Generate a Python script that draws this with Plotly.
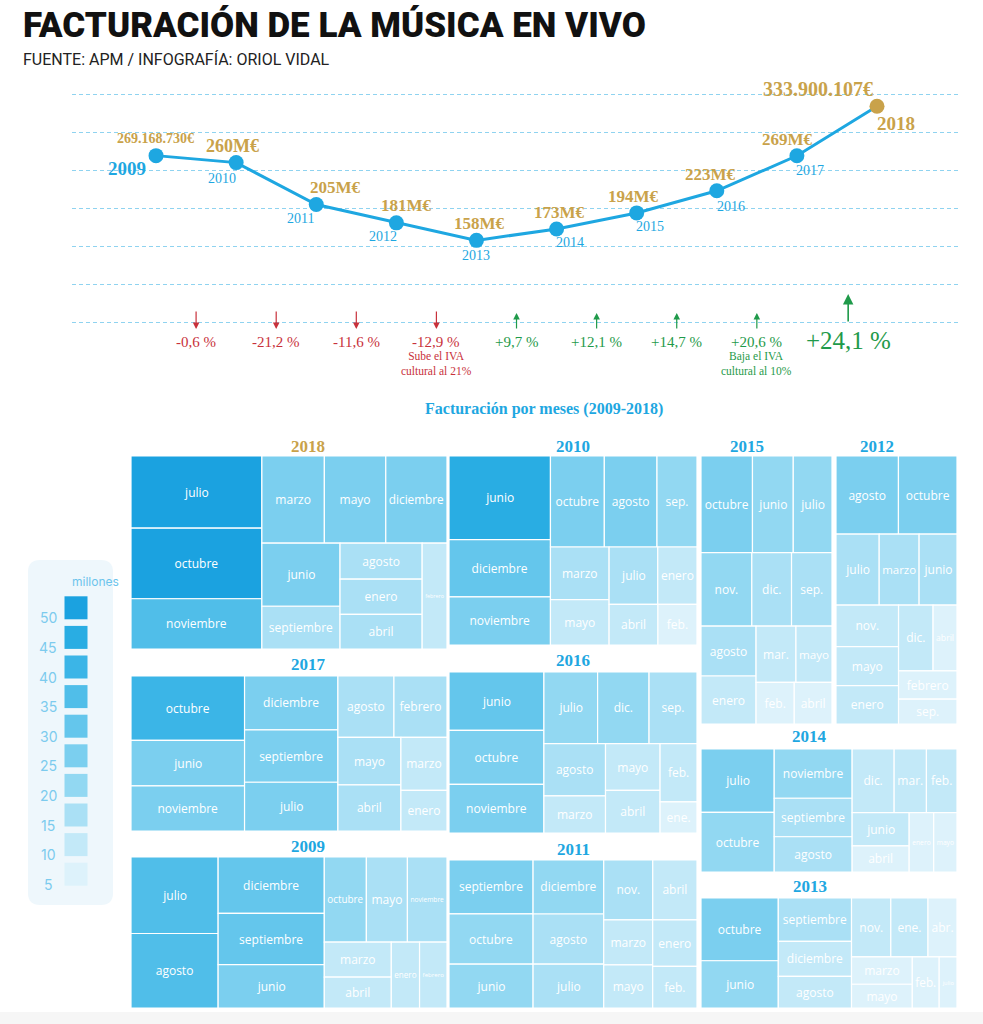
import math
import plotly.graph_objects as go

# ---------------- data ----------------
YEARS = [2009, 2010, 2011, 2012, 2013, 2014, 2015, 2016, 2017, 2018]
TOTALS_M = [269.168730, 260, 205, 181, 158, 173, 194, 223, 269, 333.900107]
TOTAL_LABELS = ["269.168.730€", "260M€", "205M€", "181M€", "158M€", "173M€",
                "194M€", "223M€", "269M€", "333.900.107€"]
CHANGE_LABELS = ["-0,6 %", "-21,2 %", "-11,6 %", "-12,9 %", "+9,7 %",
                 "+12,1 %", "+14,7 %", "+20,6 %", "+24,1 %"]
CHANGE_SIGN = [-1, -1, -1, -1, 1, 1, 1, 1, 1]
CHANGE_NOTES = {3: "Sube el IVA<br>cultural al 21%", 7: "Baja el IVA<br>cultural al 10%"}

LEGEND_VALUES = [50, 45, 40, 35, 30, 25, 20, 15, 10, 5]

# monthly revenue (millions of euros), listed in the infographic's layout order
M2018 = ["julio", "octubre", "noviembre", "marzo", "mayo", "diciembre", "junio",
         "septiembre", "agosto", "enero", "abril", "febrero"]
V2018 = [51.7, 50.6, 36.0, 29.8, 29.3, 29.2, 27.0, 18.3, 16.2, 15.8, 15.6, 14.4]

M2010 = ["junio", "diciembre", "noviembre", "octubre", "agosto", "sep.", "marzo",
         "mayo", "julio", "enero", "abril", "feb."]
V2010 = [47.1, 32.2, 27.1, 27.2, 26.6, 20.2, 17.1, 14.8, 15.5, 12.5, 11.0, 8.8]

M2015 = ["octubre", "junio", "julio", "nov.", "dic.", "sep.", "agosto", "enero",
         "mar.", "mayo", "feb.", "abril"]
V2015 = [27.5, 21.8, 20.7, 20.6, 16.1, 16.4, 15.2, 14.6, 12.4, 11.2, 8.8, 8.7]

M2012 = ["agosto", "octubre", "julio", "marzo", "junio", "nov.", "mayo", "enero",
         "dic.", "abril", "febrero", "sep."]
V2012 = [27.2, 25.5, 17.1, 15.8, 15.0, 14.5, 13.6, 13.4, 12.7, 8.8, 9.2, 8.1]

M2017 = ["octubre", "junio", "noviembre", "diciembre", "septiembre", "julio",
         "agosto", "febrero", "mayo", "abril", "marzo", "enero"]
V2017 = [40.1, 28.4, 28.2, 27.6, 26.9, 25.0, 18.9, 17.9, 16.4, 16.0, 13.4, 10.3]

M2016 = ["junio", "octubre", "noviembre", "julio", "dic.", "sep.", "agosto",
         "marzo", "mayo", "abril", "feb.", "ene."]
V2016 = [30.9, 28.6, 25.8, 21.5, 20.6, 19.2, 17.9, 12.8, 14.2, 13.0, 12.0, 6.4]

M2009 = ["julio", "agosto", "diciembre", "septiembre", "junio", "octubre", "mayo",
         "noviembre", "marzo", "abril", "enero", "febrero"]
V2009 = [37.6, 36.6, 33.8, 30.6, 26.0, 20.2, 19.7, 19.0, 13.2, 11.7, 10.5, 10.2]

M2011 = ["septiembre", "octubre", "junio", "diciembre", "agosto", "julio", "nov.",
         "abril", "marzo", "mayo", "enero", "feb."]
V2011 = [25.3, 23.6, 20.6, 21.3, 19.8, 17.3, 16.4, 14.8, 12.3, 11.8, 11.5, 10.3]

M2014 = ["julio", "octubre", "noviembre", "septiembre", "agosto", "dic.", "mar.",
         "feb.", "junio", "abril", "enero", "mayo"]
V2014 = [25.5, 24.0, 21.1, 16.5, 15.1, 14.7, 11.3, 10.7, 10.4, 8.2, 8.0, 7.6]

M2013 = ["octubre", "junio", "septiembre", "diciembre", "agosto", "nov.", "ene.",
         "abr.", "marzo", "mayo", "feb.", "julio"]
V2013 = [27.2, 20.5, 17.8, 14.4, 13.0, 13.0, 12.3, 9.6, 9.3, 8.1, 7.7, 5.1]

# ---------------- styling ----------------
W, H = 983, 1024
BLUE = "#1ea7e1"
GOLD = "#c9a24a"
RED = "#c8313b"
GREEN = "#1f9a4a"
GRID = "#8fd3f0"
SERIF = "Liberation Serif"
SANS = "Open Sans"
BUCKET_COLORS = {50: "#1ba2e0", 45: "#29ade3", 40: "#3bb5e7", 35: "#50bee9",
                 30: "#64c6ec", 25: "#7bcfef", 20: "#92d8f2", 15: "#aae0f5",
                 10: "#c3e9f8", 5: "#ddf2fb"}


def px(x):
    return x / W


def py(y):
    return 1 - y / H


def bucket_color(v):
    b = int(math.floor(v / 5.0) * 5)
    b = max(5, min(50, b))
    return BUCKET_COLORS[b]


fig = go.Figure()

# ---------------- line chart ----------------
fig.add_trace(go.Scatter(
    x=YEARS, y=TOTALS_M, mode="lines+markers",
    line=dict(color=BLUE, width=3),
    marker=dict(size=15, color=[GOLD if yr == YEARS[-1] else BLUE for yr in YEARS]),
    hoverinfo="skip", showlegend=False, xaxis="x", yaxis="y"))

annotations = []
shapes = []

# label offsets (pixels) relative to each point
VAL_OFF = [(-1, 17, 14), (-4, 17, 18), (19, 17, 17), (10, 17, 17), (3, 17, 17),
           (3, 16, 17), (-3, 16, 17), (-6, 16, 17), (-9, 16, 17), (-59, 17, 20)]
YR_OFF = [(-29, -13, 19), (-14, -16, 14), (-16, -14, 14), (-13, -14, 14), (0, -15, 14),
          (13, -14, 14), (13, -14, 14), (14, -16, 14), (13, -15, 14), (19, -17, 19)]
for i, yr in enumerate(YEARS):
    dx, dy, fs = VAL_OFF[i]
    annotations.append(dict(x=yr, y=TOTALS_M[i], xref="x", yref="y", text=TOTAL_LABELS[i],
                            showarrow=False, xshift=dx, yshift=dy, yanchor="middle",
                            font=dict(family=SERIF, size=fs, color=GOLD, weight="bold")))
    dx, dy, fs = YR_OFF[i]
    annotations.append(dict(x=yr, y=TOTALS_M[i], xref="x", yref="y", text=str(yr),
                            showarrow=False, xshift=dx, yshift=dy, yanchor="middle",
                            font=dict(family=SERIF, size=fs,
                                      color=GOLD if yr == YEARS[-1] else BLUE,
                                      weight="bold" if fs > 15 else "normal")))

# change row
for i, lab in enumerate(CHANGE_LABELS):
    xm = (YEARS[i] + YEARS[i + 1]) / 2.0
    big = i == len(CHANGE_LABELS) - 1
    col = RED if CHANGE_SIGN[i] < 0 else GREEN
    if big:
        xm += 0.14
    if CHANGE_SIGN[i] < 0:
        annotations.append(dict(x=xm, y=py(329), xref="x", yref="paper", text="",
                                showarrow=True, ax=0, ay=-19, arrowhead=2, arrowsize=1.1,
                                arrowwidth=1.2, arrowcolor=col))
    else:
        tip = 294 if big else 313
        annotations.append(dict(x=xm, y=py(tip), xref="x", yref="paper", text="",
                                showarrow=True, ax=0, ay=(29 if big else 17), arrowhead=2,
                                arrowsize=1.3 if big else 1.1,
                                arrowwidth=1.6 if big else 1.2, arrowcolor=col))
    annotations.append(dict(x=xm, y=py(340 if big else 342), xref="x", yref="paper",
                            text=lab, showarrow=False, yanchor="middle",
                            font=dict(family=SERIF, size=25 if big else 15, color=col)))
    if i in CHANGE_NOTES:
        annotations.append(dict(x=xm, y=py(363), xref="x", yref="paper", yanchor="middle",
                                text=CHANGE_NOTES[i], showarrow=False,
                                font=dict(family=SERIF, size=11.5, color=col)))

# ---------------- treemaps ----------------
TREEMAPS = [
    (2018, M2018, V2018, (131, 447, 456, 649), (289, 446)),
    (2010, M2010, V2010, (449, 697, 456, 645), (573, 446)),
    (2015, M2015, V2015, (701, 832, 456, 724), (766, 446)),
    (2012, M2012, V2012, (836, 957, 456, 724), (896, 446)),
    (2017, M2017, V2017, (131, 447, 676, 831), (289, 664)),
    (2016, M2016, V2016, (449, 697, 672, 833), (573, 660)),
    (2009, M2009, V2009, (131, 447, 857, 1008), (289, 846)),
    (2011, M2011, V2011, (449, 697, 860, 1008), (573, 849)),
    (2014, M2014, V2014, (701, 957, 749, 872), (829, 736)),
    (2013, M2013, V2013, (701, 957, 898, 1008), (829, 886)),
]
for yr, labs, vals, (x0, x1, y0, y1), (tx, ty) in TREEMAPS:
    fig.add_trace(go.Treemap(
        labels=labs, parents=[""] * len(labs), values=vals,
        marker=dict(colors=[bucket_color(v) for v in vals],
                    line=dict(color="white", width=1.2),
                    pad=dict(t=0, l=0, r=0, b=0)),
        tiling=dict(packing="squarify", squarifyratio=1.618034, pad=0),
        pathbar=dict(visible=False),
        textinfo="label", textposition="middle center",
        textfont=dict(family=SANS, size=12, color="white"),
        hoverinfo="skip", sort=False,
        domain=dict(x=[px(x0), px(x1)], y=[py(y1), py(y0)]),
    ))
    annotations.append(dict(x=px(tx), y=py(ty), xref="paper", yref="paper",
                            text=str(yr), showarrow=False, yanchor="middle",
                            font=dict(family=SERIF, size=17, weight="bold",
                                      color=GOLD if yr == YEARS[-1] else BLUE)))

# ---------------- colour legend ----------------
fig.add_trace(go.Scatter(
    x=[76] * len(LEGEND_VALUES), y=LEGEND_VALUES, mode="markers",
    marker=dict(symbol="square", size=23, color=[BUCKET_COLORS[v] for v in LEGEND_VALUES]),
    hoverinfo="skip", showlegend=False, xaxis="x2", yaxis="y2"))
for v in LEGEND_VALUES:
    annotations.append(dict(x=48, y=v, xref="x2", yref="y2", text=str(v), showarrow=False,
                            yshift=-10, yanchor="middle",
                            font=dict(family="Inter", size=14, color="#7ccbee")))
annotations.append(dict(x=px(70), y=py(581), xref="paper", yref="paper", text="millones",
                        showarrow=False, yanchor="middle",
                        font=dict(family="Inter", size=12, color="#6cc4ec")))

# rounded legend box
bx0, bx1, by0, by1, r = 28, 113, 560, 905, 12
path = (f"M {px(bx0 + r)},{py(by0)} L {px(bx1 - r)},{py(by0)} "
        f"Q {px(bx1)},{py(by0)} {px(bx1)},{py(by0 + r)} L {px(bx1)},{py(by1 - r)} "
        f"Q {px(bx1)},{py(by1)} {px(bx1 - r)},{py(by1)} L {px(bx0 + r)},{py(by1)} "
        f"Q {px(bx0)},{py(by1)} {px(bx0)},{py(by1 - r)} L {px(bx0)},{py(by0 + r)} "
        f"Q {px(bx0)},{py(by0)} {px(bx0 + r)},{py(by0)} Z")
shapes.append(dict(type="path", path=path, xref="paper", yref="paper",
                   fillcolor="#eef7fc", line=dict(width=0), layer="below"))
shapes.append(dict(type="rect", xref="paper", yref="paper", x0=0, x1=1, y0=0, y1=py(1012),
                   fillcolor="#f6f6f6", line=dict(width=0), layer="below"))

# ---------------- titles ----------------
annotations.append(dict(x=px(21), y=py(25), xref="paper", yref="paper", xanchor="left",
                        yanchor="middle",
                        text="FACTURACIÓN DE LA MÚSICA EN VIVO", showarrow=False,
                        font=dict(family="Roboto", size=35, weight=900, color="#111111")))
annotations.append(dict(x=px(21), y=py(59), xref="paper", yref="paper", xanchor="left",
                        yanchor="middle",
                        text="FUENTE: APM / INFOGRAFÍA: ORIOL VIDAL", showarrow=False,
                        font=dict(family="Roboto", size=16, color="#222222")))
annotations.append(dict(x=px(544), y=py(409), xref="paper", yref="paper", yanchor="middle",
                        text="Facturación por meses (2009-2018)", showarrow=False,
                        font=dict(family=SERIF, size=16, weight="bold", color=BLUE)))

fig.update_layout(
    width=W, height=H, autosize=False,
    margin=dict(l=0, r=0, t=0, b=0),
    paper_bgcolor="white", plot_bgcolor="rgba(0,0,0,0)",
    showlegend=False,
    xaxis=dict(domain=[px(72), px(960)], range=[2007.951, 2019.036], visible=False,
               showgrid=False, zeroline=False),
    yaxis=dict(domain=[py(330.3), py(86.4)], range=[40, 360], tick0=0, dtick=50,
               showgrid=True, gridcolor=GRID, griddash="4px,3px", gridwidth=1.2,
               showticklabels=False, zeroline=False, showline=False, ticks=""),
    xaxis2=dict(domain=[px(30), px(100)], range=[30, 100], visible=False, anchor="y2"),
    yaxis2=dict(domain=[py(889), py(593)], range=[2.5, 52.5], visible=False, anchor="x2"),
    annotations=annotations,
    shapes=shapes,
)

fig.write_html("out.html", config={"displayModeBar": False},
               post_script="document.body.style.margin='0';")
